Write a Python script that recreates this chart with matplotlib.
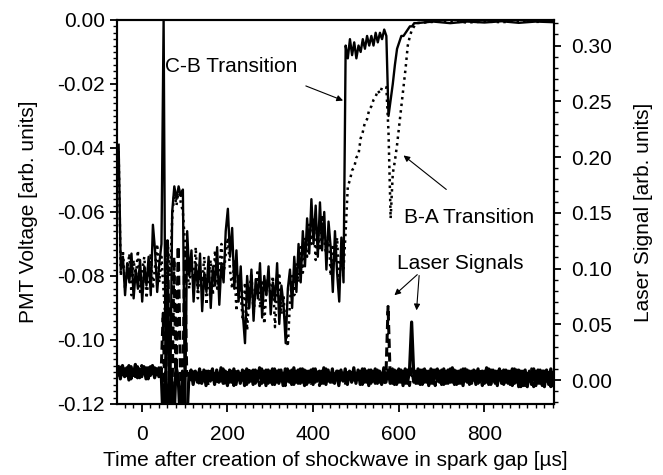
import numpy as np
import matplotlib
matplotlib.use("Agg")
import matplotlib.pyplot as plt
from matplotlib.ticker import MultipleLocator, FormatStrFormatter

plt.rcParams['font.family'] = ['Liberation Sans', 'DejaVu Sans']
plt.rcParams['axes.unicode_minus'] = False

t_pmt = np.arange(-54, 642, 5)
t_flat = [680, 720, 760, 800, 840, 880, 920, 960]
t_laser = np.arange(-55, 961, 5)

# PMT voltage, C-B transition (solid), units of 1e-3
pmt_cb = [
    -39, -78, -74, -86, -76, -82, -73, -87, -78, -84,
    -75, -88, -77, -83, -74, -86, -64, -72, -85, -76,
    -70, 0, -125, -78, -125, -60, -52, -56, -52, -55,
    -53, -125, -66, -80, -72, -88, -76, -84, -73, -91,
    -79, -85, -74, -90, -77, -83, -71, -89, -76, -82,
    -66, -59, -74, -65, -84, -72, -88, -77, -92, -101,
    -80, -90, -78, -94, -81, -87, -76, -93, -80, -86,
    -77, -92, -82, -88, -76, -95, -83, -89, -101, -84,
    -78, -90, -74, -85, -70, -82, -66, -77, -62, -73,
    -56, -70, -58, -74, -57, -72, -60, -78, -63, -71,
    -85, -66, -79, -88, -68, -82, -8, -12, -6, -11,
    -7, -12, -8, -10, -6, -9, -5, -8, -5, -8,
    -4, -7, -4, -6, -3, -5, -30, -25, -20, -14,
    -9, -7, -5, -5, -4, -3, -2, -2, -1, -1,
]
pmt_cb_flat = [-0.5, -1, -0.5, -0.8, -0.4, -0.9, -0.5, -0.7]

# PMT voltage, B-A transition (dotted)
pmt_ba = [
    -41, -80, -72, -84, -79, -73, -86, -75, -81, -72,
    -85, -78, -74, -87, -80, -73, -84, -77, -70, -82,
    -74, -85, -95, -70, -80, -62, -54, -58, -53, -57,
    -60, -70, -78, -84, -75, -83, -71, -87, -78, -82,
    -74, -89, -80, -75, -86, -72, -84, -78, -70, -80,
    -73, -68, -78, -84, -75, -91, -80, -86, -94, -82,
    -97, -85, -79, -92, -84, -78, -90, -82, -95, -84,
    -79, -88, -80, -96, -85, -79, -92, -86, -97, -102,
    -88, -80, -86, -76, -82, -71, -79, -68, -74, -64,
    -70, -62, -75, -66, -72, -61, -69, -74, -66, -80,
    -70, -76, -68, -83, -72, -78, -66, -52, -50, -47,
    -46, -43, -42, -37, -35, -32, -31, -28, -27, -25,
    -24, -22, -23, -21, -21, -21, -35, -62, -48, -44,
    -39, -33, -27, -21, -15, -8, -5, -3, -2, -1,
]
pmt_ba_flat = [-0.6, -0.4, -0.8, -0.5, -0.7, -0.4, -0.6, -0.5]

# laser signals (right axis), units of 1e-3
laser_solid = [
    12, 1, 13, 3, 11, 0, 12, 4, 14, 2,
    10, 3, 12, 1, 11, 4, 13, 2, 10, 3,
    11, -40, 6, -40, 10, 2, -40, 12, 3, -40,
    8, -40, -40, 3, 9, -4, 8, -2, 10, -3,
    9, -5, 8, -1, 10, -4, 9, -2, 11, -3,
    8, -5, 9, -2, 10, -4, 8, -3, 9, -5,
    10, -2, 8, -4, 9, -1, 11, -3, 8, -5,
    9, -2, 10, -4, 8, -3, 9, -5, 10, -1,
    8, -4, 11, -2, 9, -3, 10, -5, 8, -2,
    9, -4, 10, -1, 8, -3, 11, -4, 9, -2,
    10, -3, 8, -5, 9, -1, 10, -4, 8, -2,
    11, -3, 9, -4, 10, -2, 8, -5, 9, -1,
    10, -3, 8, -4, 11, -2, 9, -3, 10, -4,
    8, -2, 9, -5, 10, -3, 8, 52, 4, -3,
    10, -4, 9, -2, 8, -5, 10, -3, 9, -1,
    8, -4, 10, -3, 9, -2, 11, -4, 8, -3,
    9, -5, 10, -2, 8, -3, 9, -4, 10, -2,
    8, -3, 11, -4, 9, -1, 8, -5, 10, -3,
    9, -2, 8, -4, 10, -3, 9, -6, 8, -5,
    9, -6, 8, -4, 10, -5, 9, -3, 8, -6,
    9, -4, 10, -5,
]
laser_dash = [
    3, 14, 2, 12, 4, 13, 1, 11, 3, 12,
    2, 13, 4, 11, 1, 12, 3, 14, 2, 11,
    4, 60, -40, 125, 5, -40, 110, 3, 120, 12,
    -40, 115, 4, 9, -3, 10, -2, 8, -4, 9,
    -3, 8, -5, 10, -2, 9, -4, 8, -1, 10,
    -4, 9, -2, 8, -5, 10, -3, 9, -2, 8,
    -4, 10, -1, 9, -3, 8, -5, 10, -2, 9,
    -3, 8, -4, 10, -2, 9, -1, 8, -5, 10,
    -2, 9, -4, 8, -3, 10, -2, 9, -4, 8,
    -3, 10, -2, 9, -5, 8, -3, 10, -1, 9,
    -4, 8, -2, 10, -3, 9, -5, 8, -2, 10,
    -3, 9, -1, 8, -4, 10, -2, 9, -3, 8,
    -3, 9, -2, 8, -4, 3, 66, 2, -3, 9,
    -4, 10, -2, 8, -3, 9, -5, 10, -2, 8,
    -3, 9, -4, 10, -2, 8, -3, 9, -5, 10,
    -2, 9, -4, 8, -3, 10, -2, 9, -4, 8,
    -3, 10, -1, 9, -4, 8, -2, 10, -3, 9,
    -5, 8, -2, 10, -4, 9, -3, 8, -2, 10,
    -4, 9, -3, 8, -5, 10, -2, 9, -6, 8,
    -5, 9, -4, 10, -6, 8, -3, 9, -5, 10,
    -4, 9, -6, 8,
]

t_cb = np.concatenate([t_pmt, t_flat])
v_cb = np.array(pmt_cb + pmt_cb_flat) / 1000
v_ba = np.array(pmt_ba + pmt_ba_flat) / 1000
l_solid = np.array(laser_solid) / 1000
l_dash = np.array(laser_dash) / 1000

fs = 15

fig = plt.figure(figsize=(6.63, 4.75), dpi=100)
ax = fig.add_axes([0.177, 0.1495, 0.659, 0.8085])
ax2 = ax.twinx()

ax.plot(t_cb, v_cb, color='black', lw=1.7, ls='-')
ax.plot(t_cb, v_ba, color='black', lw=1.8, ls=':')
ax2.plot(t_laser, l_solid, color='black', lw=2.3, ls='-')
ax2.plot(t_laser, l_dash, color='black', lw=2.2, ls=(0, (3, 1.5)))

ax.set_xlim(-57, 963)
ax.set_ylim(-0.12, 0.0)
ax2.set_ylim(-0.0215, 0.323)

ax.xaxis.set_major_locator(MultipleLocator(200))
ax.xaxis.set_minor_locator(MultipleLocator(20))
ax.yaxis.set_major_locator(MultipleLocator(0.02))
ax.yaxis.set_minor_locator(MultipleLocator(0.002))
ax.yaxis.set_major_formatter(FormatStrFormatter('%.2f'))
ax2.yaxis.set_major_locator(MultipleLocator(0.05))
ax2.yaxis.set_minor_locator(MultipleLocator(0.01))
ax2.yaxis.set_major_formatter(FormatStrFormatter('%.2f'))

for a in (ax, ax2):
    for s in a.spines.values():
        s.set_linewidth(1.5)
    a.tick_params(which='major', direction='out', length=5, width=1.3,
                  labelsize=fs, pad=4)
    a.tick_params(which='minor', direction='out', length=3, width=1.0)
ax.tick_params(axis='x', which='major', length=6, pad=9)
ax2.tick_params(axis='y', which='major', pad=7)

ax.set_xlabel('Time after creation of shockwave in spark gap [µs]', fontsize=fs, labelpad=5)
ax.set_ylabel('PMT Voltage [arb. units]', fontsize=fs, labelpad=14)
ax2.set_ylabel('Laser Signal [arb. units]', fontsize=fs, labelpad=16)

arrow = dict(arrowstyle='-|>', color='black', lw=0.8, mutation_scale=9)
ax.text(55, -0.0147, 'C-B Transition', fontsize=fs, va='center', ha='left')
ax.annotate('', xy=(476, -0.0255), xytext=(377, -0.0203), arrowprops=arrow)
ax.text(612, -0.0616, 'B-A Transition', fontsize=fs, va='center', ha='left')
ax.annotate('', xy=(606, -0.0418), xytext=(716, -0.0535), arrowprops=arrow)
ax.text(596, -0.076, 'Laser Signals', fontsize=fs, va='center', ha='left')
ax.annotate('', xy=(585, -0.0866), xytext=(648, -0.079), arrowprops=arrow)
ax.annotate('', xy=(641, -0.0916), xytext=(648, -0.079), arrowprops=arrow)

fig.savefig('out.png', dpi=100)
